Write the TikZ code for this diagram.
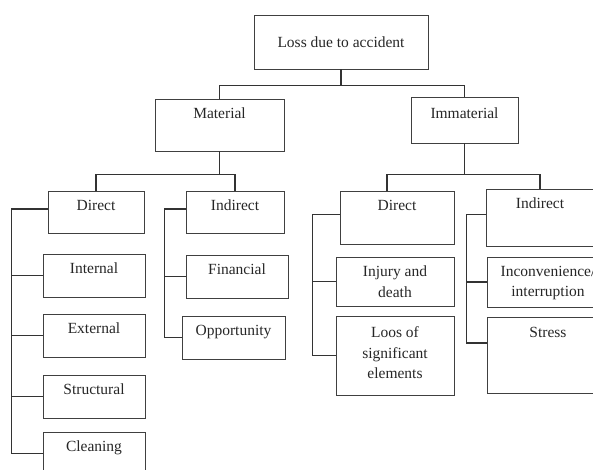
\documentclass[tikz,border=0pt]{standalone}
\usepackage{fontspec}
\setmainfont{Liberation Serif}
\usepackage{tikz}
\newcommand{\boxfont}{\fontsize{15.5}{20.5}\selectfont}

\begin{document}
\begin{tikzpicture}[x=1pt,y=-1pt,
	box/.style={draw=black!75, line width=0.9pt, inner sep=0pt},
	boxtext/.style={anchor=north, inner sep=0pt, yshift=-9pt, align=center, font=\boxfont, text=black!85},
	link/.style={draw=black!80, line width=1.1pt}]
	\useasboundingbox (0,0) rectangle (593,470);

	% top levels
	\node[box, minimum width=174pt, minimum height=54pt, font=\boxfont, text=black!85] (loss) at (341,42) {Loss due to accident};
	\node[box, minimum width=129pt, minimum height=52pt, label={[boxtext]north:Material}] (mat) at (219.5,125) {};
	\node[box, minimum width=107pt, minimum height=46pt, label={[boxtext,yshift=-2pt]north:Immaterial}] (imm) at (464.5,120) {};
	\node[box, minimum width=96pt, minimum height=42pt, label={[boxtext]north:Direct}] (mdir) at (96,212) {};
	\node[box, minimum width=98pt, minimum height=42pt, label={[boxtext]north:Indirect}] (mind) at (235,212) {};
	\node[box, minimum width=114pt, minimum height=53pt, label={[boxtext]north:Direct}] (idir) at (397,217.5) {};
	\node[box, minimum width=108pt, minimum height=57pt, label={[boxtext]north:Indirect}] (iind) at (540,217.5) {};

	% material leaves
	\node[box, minimum width=102pt, minimum height=43pt, label={[boxtext]north:Internal}] (int) at (94,275.5) {};
	\node[box, minimum width=102pt, minimum height=43pt, label={[boxtext]north:External}] (ext) at (94,335.5) {};
	\node[box, minimum width=102pt, minimum height=43pt, label={[boxtext]north:Structural}] (str) at (94,396.5) {};
	\node[box, minimum width=102pt, minimum height=43pt, label={[boxtext]north:Cleaning}] (cln) at (94,453.5) {};
	\node[box, minimum width=102pt, minimum height=43pt, label={[boxtext]north:Financial}] (fin) at (237,276.5) {};
	\node[box, minimum width=103pt, minimum height=43pt, label={[boxtext]north:Opportunity}] (opp) at (233.5,337.5) {};

	% immaterial leaves
	\node[box, minimum width=118pt, minimum height=49pt, label={[boxtext]north:{Injury and\\death}}] (inj) at (395,281.5) {};
	\node[box, minimum width=118pt, minimum height=79pt, label={[boxtext,yshift=-2pt]north:{Loos of\\significant\\elements}}] (loos) at (395,355.5) {};
	\node[box, minimum width=122pt, minimum height=50pt, label={[boxtext]north:{Inconvenience/\\interruption}}] (inc) at (548,282) {};
	\node[box, minimum width=122pt, minimum height=76pt, label={[boxtext,yshift=-1pt]north:Stress}] (strs) at (548,355) {};

	\draw[link] (loss.south) -- ++(0,16) coordinate (j1) -| (mat.north);
	\draw[link] (j1) -| (imm.north);
	\draw[link] (mat.south) -- ++(0,23) coordinate (j2) -| (mdir.north);
	\draw[link] (j2) -| (mind.north);
	\draw[link] (imm.south) -- ++(0,31) coordinate (j3) -| ([xshift=-10pt]idir.north);
	\draw[link] (j3) -| (iind.north);

	\draw[link] ([yshift=3pt]mdir.west) -- ++(-36,0) coordinate (r1) |- (cln.west);
	\foreach \n in {int,ext,str}
		\draw[link] (\n.west) -- (\n.west -| r1);
	\draw[link] ([yshift=3pt]mind.west) -- ++(-21,0) coordinate (r2) |- (opp.west);
	\draw[link] (fin.west) -- (fin.west -| r2);
	\draw[link] ([yshift=3pt]idir.west) -- ++(-27,0) coordinate (r3) |- (loos.west);
	\draw[link] (inj.west) -- (inj.west -| r3);
	\draw[link] ([yshift=3pt]iind.west) -- ++(-19,0) coordinate (r4) |- ([yshift=12pt]strs.west);
	\draw[link] (inc.west) -- (inc.west -| r4);

\end{tikzpicture}
\end{document}
